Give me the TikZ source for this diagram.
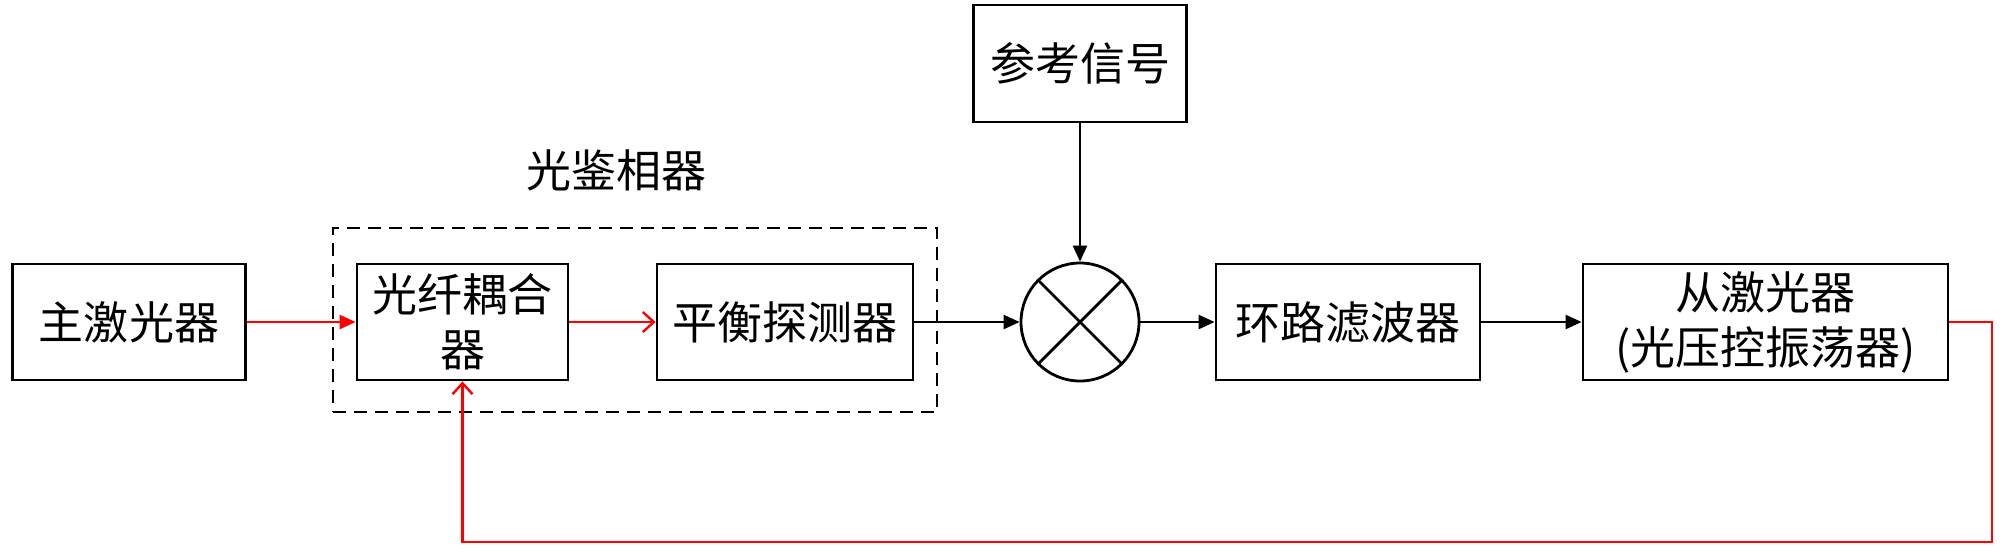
\documentclass[tikz,border=0pt]{standalone}
\usepackage{fontspec}
\newfontfamily\cjk{Noto Sans CJK SC}
\usetikzlibrary{arrows.meta}
\begin{document}
\begin{tikzpicture}[x=0.5pt,y=-0.5pt,
 box/.style={draw, line width=1.4pt, inner sep=0pt, minimum height=58pt, align=center, font=\cjk\fontsize{22.5}{27.5}\selectfont},
 lbl/.style={inner sep=0pt, font=\cjk\fontsize{22.5}{27.5}\selectfont},
 blk/.style={line width=1.2pt, -{Triangle[length=8pt,width=7pt]}},
 redf/.style={red, line width=1.2pt, -{Triangle[length=8pt,width=7pt]}},
 redo/.style={red, line width=1.2pt, -{Straight Barb[length=5.5pt,width=10pt]}},
 dbox/.style={draw, dash pattern=on 6.5pt off 4pt, line width=1.3pt, inner sep=0pt},
]
\useasboundingbox (0,0) rectangle (2000,548);
\node[dbox, minimum width=302pt, minimum height=92pt] (D) at (635,320) {};
\node[lbl] (L) at (616,170) {光鉴相器};
\node[box, minimum width=116.5pt] (A) at (129,322) {主激光器};
\node[box, minimum width=105.5pt] (B) at (462.5,322) {光纤耦合\\器};
\node[box, minimum width=128pt] (C) at (785,322) {平衡探测器};
\node[box, minimum width=106.5pt, minimum height=58.5pt] (R) at (1080,63.5) {参考信号};
\node[circle, draw, line width=1.4pt, minimum size=59pt, inner sep=0pt] (M) at (1080,322) {};
\draw[line width=1.4pt] (M.45) -- (M.225) (M.135) -- (M.315);
\node[box, minimum width=132pt] (F) at (1348,322) {环路滤波器};
\node[box, minimum width=182.5pt] (S) at (1765.5,322) {从激光器\\(光压控振荡器)};
\draw[redf] (A) -- (B);
\draw[redo] (B) -- (C);
\draw[blk] (C) -- (M);
\draw[blk] (R) -- (M);
\draw[blk] (M) -- (F);
\draw[blk] (F) -- (S);
\coordinate (c1) at (1992,322);
\coordinate (c2) at (1992,542);
\coordinate (c3) at (462.5,542);
\draw[redo] (S.east) -- (c1) -- (c2) -- (c3) -- (B.south);
\end{tikzpicture}
\end{document}
